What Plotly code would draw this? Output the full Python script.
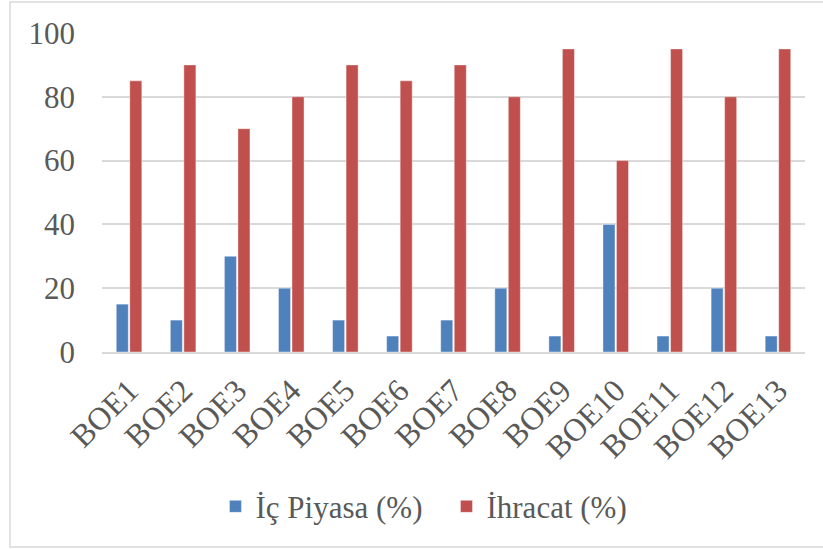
import plotly.graph_objects as go

categories = ["BOE1", "BOE2", "BOE3", "BOE4", "BOE5", "BOE6", "BOE7",
              "BOE8", "BOE9", "BOE10", "BOE11", "BOE12", "BOE13"]
ic_piyasa = [15, 10, 30, 20, 10, 5, 10, 20, 5, 40, 5, 20, 5]
ihracat = [85, 90, 70, 80, 90, 85, 90, 80, 95, 60, 95, 80, 95]
y_ticks = [0, 20, 40, 60, 80, 100]

FONT = "Liberation Serif"
GRAY = "#595959"
GRID = "#d9d9d9"

fig = go.Figure()
fig.add_trace(go.Bar(x=categories, y=ic_piyasa, name="İç Piyasa (%)",
                     marker=dict(color="#4f81bd", line=dict(color="rgba(255,255,255,0.5)", width=0.8))))
fig.add_trace(go.Bar(x=categories, y=ihracat, name="İhracat (%)",
                     marker=dict(color="#c0504d", line=dict(color="rgba(255,255,255,0.5)", width=0.8))))

fig.update_layout(
    width=823, height=549,
    margin=dict(l=102, r=18, t=33, b=197),
    paper_bgcolor="white", plot_bgcolor="white",
    barmode="group", bargap=0.5, bargroupgap=0.11,
    font=dict(family=FONT, color=GRAY, size=30),
    showlegend=True,
    legend=dict(orientation="h", x=0.49, xanchor="center", y=-0.485, yanchor="middle",
                font=dict(family=FONT, size=31, color=GRAY), itemwidth=30,
                entrywidth=186, traceorder="normal"),
    xaxis=dict(tickangle=-45, tickfont=dict(family=FONT, size=32, color=GRAY),
               showline=True, linecolor=GRID, linewidth=2, ticks="", showgrid=False,
               ticklabelstandoff=5),
    yaxis=dict(range=[0, 100], tickvals=y_ticks, showgrid=True, gridcolor=GRID, gridwidth=1.5,
               zeroline=False, ticks="", showline=False,
               tickfont=dict(family=FONT, size=31, color=GRAY), ticklabelstandoff=26),
    shapes=[dict(type="rect", xref="paper", yref="paper",
                 x0=(10 - 102) / 703, x1=(830 - 102) / 703,
                 y0=(352 - 547) / 319, y1=(352 - 2) / 319,
                 line=dict(color=GRID, width=1.5), fillcolor="rgba(0,0,0,0)", layer="below")],
)

fig.write_html("out.html", config={"displayModeBar": False},
               post_script="document.body.style.margin='0';document.body.style.overflow='hidden';")
